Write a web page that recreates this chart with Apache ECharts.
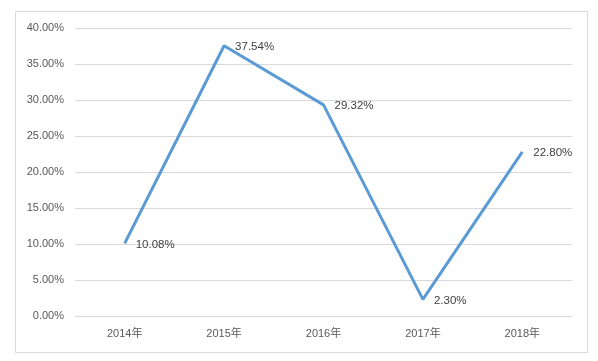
<!DOCTYPE html>
<html><head><meta charset="utf-8">
<script src="https://cdn.jsdelivr.net/npm/echarts@6/dist/echarts.min.js"></script>
<style>html,body{margin:0;padding:0;background:#fff}#c{width:598px;height:361px}</style>
</head><body><div id="c"></div>
<script>
const categories = ['2014年','2015年','2016年','2017年','2018年'];
const values = [10.08, 37.54, 29.32, 2.30, 22.80];
const yMin = 0, yMax = 40, yStep = 5;

const chart = echarts.init(document.getElementById('c'), null, {renderer:'canvas'});
const font = '"Liberation Sans", "Noto Sans CJK SC", sans-serif';
chart.setOption({
  animation:false,
  backgroundColor:'#fff',
  graphic:[{type:'rect', shape:{x:15.5,y:11.5,width:572,height:341}, style:{fill:'none', stroke:'#d9d9d9', lineWidth:1}}],
  grid:{left:75, right:26, top:28, bottom:45},
  xAxis:{type:'category', data:categories, boundaryGap:true,
    axisLine:{show:true, lineStyle:{color:'#d9d9d9'}}, axisTick:{show:false},
    axisLabel:{color:'#595959', fontSize:11, fontFamily:font, margin:12}},
  yAxis:{type:'value', min:yMin, max:yMax, interval:yStep,
    axisLine:{show:false}, axisTick:{show:false},
    splitLine:{lineStyle:{color:'#d9d9d9'}},
    axisLabel:{color:'#595959', fontSize:11, fontFamily:font, margin:11, formatter:v=>v.toFixed(2)+'%'}},
  series:[{type:'line', data:values, symbol:'circle', symbolSize:2, showSymbol:true, showAllSymbol:true,
    itemStyle:{color:'rgba(0,0,0,0)', borderWidth:0},
    lineStyle:{color:'#5b9bd5', width:3},
    label:{show:true, position:'right', distance:10, offset:[0,1], color:'#404040', fontSize:11.5, fontFamily:font, formatter:p=>p.value.toFixed(2)+'%'}}]
});
</script></body></html>
